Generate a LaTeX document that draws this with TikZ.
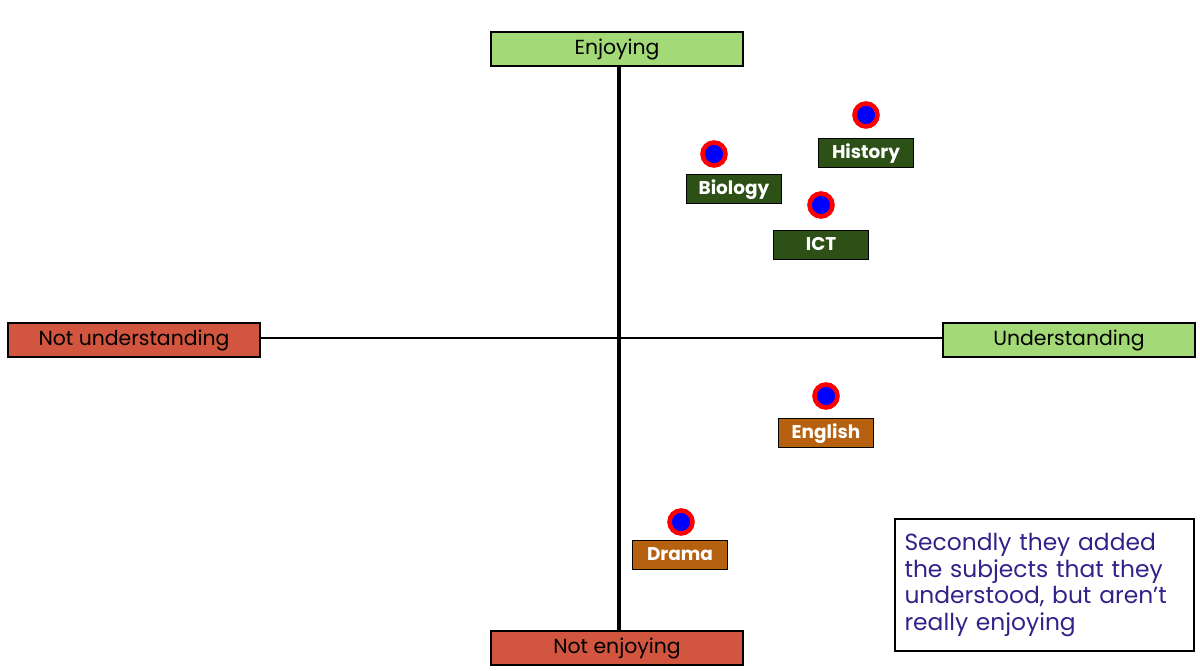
\documentclass[tikz,border=0pt]{standalone}
\usepackage{fontspec}
\setmainfont{Poppins}
\definecolor{axgreen}{HTML}{A3D977}
\definecolor{axred}{HTML}{D2553F}
\definecolor{lblgreen}{HTML}{2D5016}
\definecolor{lblbrown}{HTML}{B5610F}
\definecolor{notepurple}{HTML}{35208A}
\definecolor{dotred}{HTML}{FF0000}
\definecolor{dotblue}{HTML}{0000FF}
\tikzset{
  axisbox/.style={draw=black, line width=1.2pt, minimum width=252*0.02cm, minimum height=34*0.02cm, inner sep=0pt, text height=1.55ex, text depth=0.35ex, font=\fontsize{11.6}{13}\selectfont},
  lbl/.style={draw=black, line width=1.1pt, text=white, minimum width=95*0.02cm, minimum height=29*0.02cm, inner sep=0pt, text height=1.55ex, text depth=0.35ex, font=\fontsize{10.5}{12}\selectfont\bfseries},
  dotmark/.style={circle, fill=dotblue, draw=dotred, line width=2.6pt, minimum size=23*0.02cm, inner sep=0pt},
  axisline/.style={draw=black},
  notebox/.style={draw=black, line width=1.6pt, text=notepurple, align=left, text width=280*0.02cm, minimum width=299*0.02cm, minimum height=132*0.02cm, inner sep=0pt, font=\fontsize{13.3}{15.3}\selectfont}
}
\begin{document}
\begin{tikzpicture}[x=0.02cm, y=-0.02cm]
\useasboundingbox (0,0) rectangle (1200,671);
\node[axisbox, fill=axgreen] (enj) at (617,49) {Enjoying};
\node[axisbox, fill=axred] (nenj) at (617,648) {Not enjoying};
\node[axisbox, fill=axred] (nund) at (134,340) {Not understanding};
\node[axisbox, fill=axgreen] (und) at (1069,340) {Understanding};
\coordinate (cx) at (619,338);
\draw[axisline, line width=2.4pt] (enj.south -| cx) -- (nenj.north -| cx);
\draw[axisline, line width=1.5pt] (nund.east |- cx) -- (und.west |- cx);

\node[dotmark] (dh) at (866,115) {};
\node[lbl, fill=lblgreen] (hist) at (866,153) {History};
\node[dotmark] (db) at (714,154) {};
\node[lbl, fill=lblgreen] (bio) at (734,189) {Biology};
\node[dotmark] (di) at (821,205) {};
\node[lbl, fill=lblgreen] (ict) at (821,245) {ICT};
\node[dotmark] (de) at (826,396) {};
\node[lbl, fill=lblbrown] (eng) at (826,433) {English};
\node[dotmark] (dd) at (681,522) {};
\node[lbl, fill=lblbrown] (dra) at (680,555) {Drama};

\node[notebox] (note) at (1044.5,585) {Secondly they added the subjects that they understood, but aren’t really enjoying};
\end{tikzpicture}
\end{document}
